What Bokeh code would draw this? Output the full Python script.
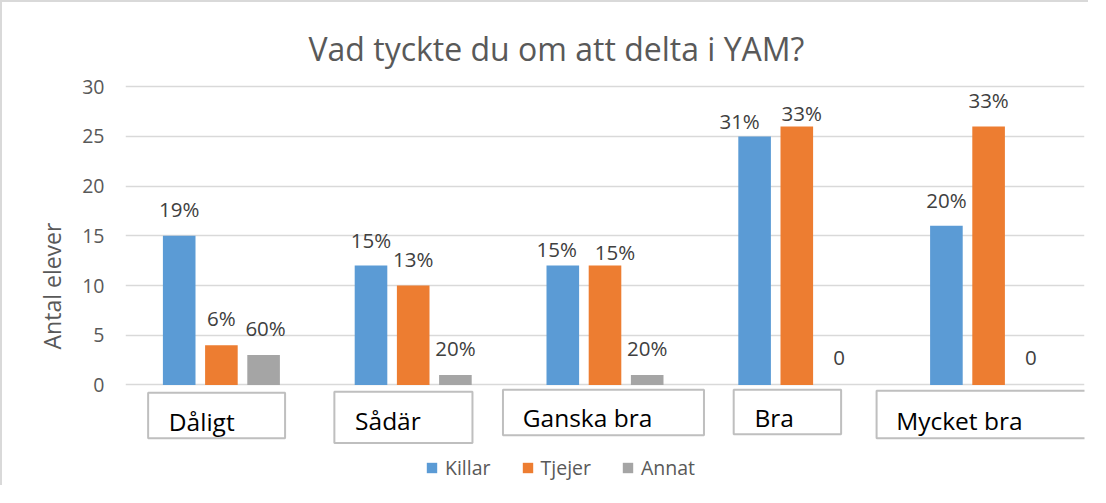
from bokeh.plotting import figure
from bokeh.models import (ColumnDataSource, FactorRange, Range1d, FixedTicker,
                          Legend, LegendItem)
from bokeh.transform import dodge
from bokeh.core.properties import value
from bokeh.embed import file_html
from bokeh.resources import INLINE

# ---------------- data ----------------
categories = ["Dåligt", "Sådär", "Ganska bra", "Bra", "Mycket bra"]
series_names = ["Killar", "Tjejer", "Annat"]
killar = [15, 12, 12, 25, 16]
tjejer = [4, 10, 12, 26, 26]
annat = [3, 1, 1, 0, 0]
killar_labels = ["19%", "15%", "15%", "31%", "20%"]
tjejer_labels = ["6%", "13%", "15%", "33%", "33%"]
annat_labels = ["60%", "20%", "20%", "0", "0"]
y_ticks = [0, 5, 10, 15, 20, 25, 30]
title_text = "Vad tyckte du om att delta i YAM?"
y_label = "Antal elever"

# ---------------- style / layout ----------------
FONT = "Open Sans"
GRAY_TXT = "#595959"
colors = ["#5B9BD5", "#ED7D31", "#A5A5A5"]
dodges = [-0.22, 0.0, 0.22]
BAR_W = 0.17
BASE_FIX = 8                    # px: lift alphabetic-baseline texts
# per-label nudges in px: horizontal shift, gap bar-top -> text baseline
label_dx = [[0, 0, -6, -15, 0], [0, 0, 10, 5, 0], [2, 0, 0, 0, 0]]
label_gap = [[19, 18, 9, 7, 18], [19, 19, 6, 5, 18], [19, 19, 19, 19, 19]]

# category boxes, in category units (x) and value units (y):
# left, right, top, bottom, text-left, text-baseline
boxes = [
    (0.118, 0.832, -0.78, -5.36, 0.226, -4.48),
    (1.089, 1.809, -0.68, -5.84, 1.197, -4.38),
    (1.968, 3.016, -0.49, -5.06, 2.071, -4.09),
    (3.171, 3.731, -0.49, -4.97, 3.279, -4.09),
    (3.916, 5.050, -0.58, -5.36, 4.018, -4.38),
]

W, H = 1088, 485
ML, MR, MT, MB = 123, 6, 82, 0
PPU = 9.94                      # px per unit on the value axis
Y0_PX = 382.4                   # canvas y of the zero line
Y_END = (Y0_PX - MT) / PPU
Y_START = Y_END - (H - MT - MB) / PPU

p = figure(x_range=FactorRange(*categories), y_range=Range1d(Y_START, Y_END),
           width=W, height=H, output_backend="svg", toolbar_location=None,
           min_border_left=ML, min_border_right=MR, min_border_top=MT,
           min_border_bottom=MB)
p.styles = {"border-left": "2px solid #d9d9d9", "border-top": "2px solid #d9d9d9"}
p.outline_line_color = None
p.background_fill_color = "white"
p.border_fill_color = "white"

p.title.text = title_text
p.title.align = "left"
p.title.offset = 183
p.title.standoff = 30
p.title.text_font = FONT
p.title.text_font_size = "32px"
p.title.text_font_style = "normal"
p.title.text_color = GRAY_TXT

p.xaxis.visible = False
p.xgrid.visible = False
p.yaxis.ticker = FixedTicker(ticks=y_ticks)
p.yaxis.bounds = (y_ticks[0], y_ticks[-1])
p.yaxis.axis_label = y_label
p.yaxis.axis_label_text_font = FONT
p.yaxis.axis_label_text_font_size = "23px"
p.yaxis.axis_label_text_font_style = "normal"
p.yaxis.axis_label_text_color = GRAY_TXT
p.yaxis.axis_label_standoff = 11
p.yaxis.major_label_text_font = FONT
p.yaxis.major_label_text_font_size = "19.5px"
p.yaxis.major_label_text_color = GRAY_TXT
p.yaxis.major_label_standoff = 21
p.yaxis.major_tick_out = 0
p.yaxis.major_tick_in = 0
p.yaxis.axis_line_color = None
p.yaxis.major_tick_line_color = None
p.yaxis.minor_tick_line_color = None
p.ygrid.grid_line_color = "#d9d9d9"
p.ygrid.grid_line_width = 1.5

values = [killar, tjejer, annat]
labels = [killar_labels, tjejer_labels, annat_labels]
items = []
for i, name in enumerate(series_names):
    src = ColumnDataSource(dict(cat=categories, val=values[i], lab=labels[i],
                                dx=label_dx[i],
                                dy=[-(g + BASE_FIX) for g in label_gap[i]]))
    xd = dodge("cat", dodges[i], range=p.x_range)
    r = p.vbar(x=xd, top="val", width=BAR_W, source=src,
               fill_color=colors[i], line_color=None)
    p.text(x=xd, y="val", text="lab", x_offset="dx", y_offset="dy", source=src,
           text_align="center", text_baseline="alphabetic",
           text_font=value(FONT), text_font_size="20.5px", text_color="#404040")
    items.append(LegendItem(label=name, renderers=[r]))

# boxed category labels
bsrc = ColumnDataSource(dict(
    name=categories,
    l=[b[0] for b in boxes], r=[b[1] for b in boxes],
    t=[b[2] for b in boxes], b=[b[3] for b in boxes],
    tx=[b[4] for b in boxes], ty=[b[5] for b in boxes]))
p.quad(left="l", right="r", top="t", bottom="b", source=bsrc,
       fill_color="white", line_color="#bfbfbf", line_width=2)
p.text(x="tx", y="ty", text="name", source=bsrc, text_align="left",
       text_baseline="alphabetic", y_offset=-BASE_FIX, text_font=value(FONT),
       text_font_size="24.5px", text_color="#000000")

legend = Legend(items=items, orientation="horizontal", location=(300, 6),
                padding=0, margin=0, border_line_color=None,
                background_fill_alpha=0, glyph_width=13, glyph_height=13,
                label_standoff=7, spacing=30, label_height=20,
                label_text_font=FONT, label_text_font_size="19.5px",
                label_text_color=GRAY_TXT)
p.add_layout(legend)

open("out.html", "w").write(file_html(p, INLINE))
